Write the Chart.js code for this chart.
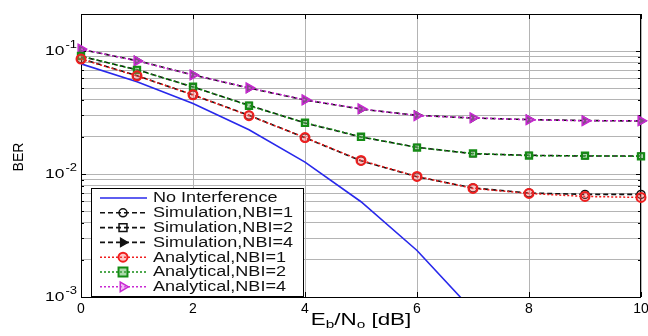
<!DOCTYPE html>
<html><head><meta charset="utf-8">
<script src="https://cdn.jsdelivr.net/npm/chart.js@4/dist/chart.umd.min.js"></script>
<style>html,body{margin:0;padding:0;background:#fff}canvas{display:block}</style>
</head><body><canvas id="c" width="648" height="336"></canvas>
<script>
// ---- data ----
const ebno = [0,1,2,3,4,5,6,7,8,9,10];
const noInterference = [0.0786,0.0563,0.0375,0.0229,0.0125,0.00595,0.00239,0.000773,0.000191];
const simNBI1 = [0.0865,0.0630,0.0440,0.0300,0.0197,0.0128,0.00950,0.00770,0.00700,0.00683,0.00683];
const simNBI2 = [0.0905,0.0705,0.0510,0.0362,0.0260,0.0200,0.0165,0.0146,0.0142,0.0140,0.0140];
const simNBI4 = [0.1030,0.0835,0.0640,0.0500,0.0400,0.0337,0.0300,0.0285,0.0277,0.0272,0.0270];
const anaNBI1 = [0.0861,0.0628,0.0441,0.0298,0.0198,0.0129,0.00955,0.00764,0.00695,0.00657,0.00645];
const anaNBI2 = [0.0911,0.0701,0.0512,0.0359,0.0261,0.0201,0.0164,0.0147,0.0141,0.0141,0.0139];
const anaNBI4 = [0.1038,0.0830,0.0639,0.0502,0.0401,0.0339,0.0298,0.0287,0.0276,0.0271,0.0271];
const seriesLabels = ['No Interference','Simulation,NBI=1','Simulation,NBI=2','Simulation,NBI=4','Analytical,NBI=1','Analytical,NBI=2','Analytical,NBI=4'];
const yGridValues = [0.001,0.002,0.003,0.004,0.005,0.006,0.007,0.008,0.009,0.01,0.02,0.03,0.04,0.05,0.06,0.07,0.08,0.09,0.1,0.2];
const yMajorValues = [0.001,0.01,0.1];
const yMajorExponents = ['-3','-2','-1'];
const xTickValues = [0,2,4,6,8,10];
const xTitleParts = [['E',false],['b',true],['/N',false],['o',true],[' [dB]',false]];
const yTitle = 'BER';

const pts = arr => arr.map((v,i)=>({x:ebno[i],y:v}));
const RED='rgb(240,30,30)', GREEN='rgb(20,140,20)', MAG='rgb(200,40,210)', BLUE='rgb(40,40,235)';
const FONT='"Liberation Sans", Arial, sans-serif';

const datasets = [
 {label:seriesLabels[0],data:pts(noInterference),borderColor:BLUE,borderWidth:1.6,pointRadius:0,order:3},
 {label:seriesLabels[1],data:pts(simNBI1),borderColor:'#111',borderWidth:1.6,borderDash:[5,3],pointStyle:'circle',pointRadius:4,pointBorderWidth:1.5,pointBorderColor:'#111',pointBackgroundColor:'rgba(255,255,255,0)',order:2,clip:false},
 {label:seriesLabels[2],data:pts(simNBI2),borderColor:'#111',borderWidth:1.6,borderDash:[5,3],pointStyle:'rect',pointRadius:4,pointBorderWidth:1.5,pointBorderColor:'#111',pointBackgroundColor:'rgba(255,255,255,0)',order:2,clip:false},
 {label:seriesLabels[3],data:pts(simNBI4),borderColor:'#111',borderWidth:1.6,borderDash:[5,3],pointStyle:'triangle',pointRotation:90,pointRadius:5,pointBorderWidth:1.2,pointBorderColor:'#111',pointBackgroundColor:'#111',order:2,clip:false},
 {label:seriesLabels[4],data:pts(anaNBI1),borderColor:RED,borderWidth:1.5,borderDash:[2,2],pointStyle:'circle',pointRadius:4.5,pointBorderWidth:2,pointBorderColor:RED,pointBackgroundColor:'rgba(255,90,90,0.35)',order:1,clip:false},
 {label:seriesLabels[5],data:pts(anaNBI2),borderColor:GREEN,borderWidth:1.5,borderDash:[2,2],pointStyle:'rect',pointRadius:4.5,pointBorderWidth:2,pointBorderColor:GREEN,pointBackgroundColor:'rgba(90,180,90,0.5)',order:1,clip:false},
 {label:seriesLabels[6],data:pts(anaNBI4),borderColor:MAG,borderWidth:1.5,borderDash:[2,2],pointStyle:'triangle',pointRotation:90,pointRadius:5.5,pointBorderWidth:1.5,pointBorderColor:MAG,pointBackgroundColor:'rgba(225,130,235,0.55)',order:1,clip:false}
];

function drawMarker(ctx, ds, x, y){
  if(!ds.pointRadius) return;
  ctx.save();
  ctx.setLineDash([]);
  ctx.strokeStyle = ds.pointBorderColor; ctx.fillStyle = ds.pointBackgroundColor; ctx.lineWidth = ds.pointBorderWidth;
  const r = ds.pointRadius;
  ctx.beginPath();
  if(ds.pointStyle==='circle'){ ctx.arc(x,y,r,0,Math.PI*2); }
  else if(ds.pointStyle==='rect'){ const s=r/Math.SQRT2*1.4; ctx.rect(x-s,y-s,2*s,2*s); }
  else { ctx.moveTo(x+r,y); ctx.lineTo(x-r*0.5,y-r*0.87); ctx.lineTo(x-r*0.5,y+r*0.87); ctx.closePath(); }
  ctx.fill(); ctx.stroke();
  ctx.restore();
}
function stretchedText(ctx, text, x, y, sx){
  ctx.save(); ctx.translate(x,y); ctx.scale(sx,1); ctx.fillText(text,0,0); ctx.restore();
}

const decor = {
  id:'decor',
  beforeDatasetsDraw(chart){
    const {ctx, chartArea:a, scales:{x,y}} = chart;
    ctx.save();
    ctx.strokeStyle='#000'; ctx.lineWidth=1;
    ctx.beginPath();
    xTickValues.forEach(v=>{ const px=Math.round(x.getPixelForValue(v))+0.5; ctx.moveTo(px,a.bottom); ctx.lineTo(px,a.bottom-5); ctx.moveTo(px,a.top); ctx.lineTo(px,a.top+5); });
    yGridValues.forEach(v=>{ const py=Math.round(y.getPixelForValue(v))+0.5; const L=yMajorValues.includes(v)?5:3; ctx.moveTo(a.left,py); ctx.lineTo(a.left+L,py); ctx.moveTo(a.right,py); ctx.lineTo(a.right-L,py); });
    ctx.stroke();
    ctx.strokeRect(Math.round(a.left)+0.5, Math.round(a.top)+0.5, Math.round(a.right-a.left)-1, Math.round(a.bottom-a.top));
    ctx.restore();
  },
  afterDraw(chart){
    const {ctx, chartArea:a, scales:{y}} = chart;
    ctx.save();
    ctx.fillStyle='#000';
    ctx.textBaseline='alphabetic';
    ctx.textAlign='left';
    // y tick labels with superscripts
    yMajorValues.forEach((v,i)=>{
      const py = y.getPixelForValue(v);
      ctx.font='12px '+FONT;
      const w10 = ctx.measureText('10').width*1.45;
      ctx.font='10px '+FONT;
      const we = ctx.measureText(yMajorExponents[i]).width*1.3;
      const right = a.left-4;
      const xe = right-we, x10 = xe-1-w10;
      ctx.font='12px '+FONT;
      stretchedText(ctx,'10',x10,py+4,1.45);
      ctx.font='10px '+FONT;
      stretchedText(ctx,yMajorExponents[i],xe,py-3,1.3);
    });
    // y title
    ctx.save();
    ctx.translate(23,157); ctx.rotate(-Math.PI/2);
    ctx.font='14px '+FONT; ctx.textAlign='center';
    ctx.fillText(yTitle,0,0);
    ctx.restore();
    // x title with subscripts
    const sx=1.4;
    let total=0;
    const widths = xTitleParts.map(([t,sub])=>{ ctx.font=(sub?'11px ':'16px ')+FONT; const w=ctx.measureText(t).width*sx; total+=w; return w; });
    let cx = (a.left+a.right)/2 - total/2;
    xTitleParts.forEach(([t,sub],i)=>{ ctx.font=(sub?'11px ':'16px ')+FONT; stretchedText(ctx,t,cx,sub?328:325,sx); cx+=widths[i]; });
    // legend
    const L=a.left+10, T=188, R=303, B=a.bottom-1;
    ctx.fillStyle='#fff'; ctx.fillRect(L,T,R-L,B-T);
    ctx.strokeStyle='#000'; ctx.lineWidth=1; ctx.setLineDash([]);
    ctx.strokeRect(L+0.5,T+0.5,R-L,B-T);
    chart.data.datasets.forEach((ds,i)=>{
      const ry = T+10+i*14.8;
      ctx.save();
      ctx.strokeStyle=ds.borderColor; ctx.lineWidth=ds.borderWidth; ctx.setLineDash(ds.borderDash||[]);
      ctx.beginPath(); ctx.moveTo(L+9,ry); ctx.lineTo(L+56,ry); ctx.stroke();
      ctx.restore();
      drawMarker(ctx, ds, L+32, ry);
      ctx.fillStyle='#111'; ctx.font='14px '+FONT; ctx.textBaseline='middle'; ctx.textAlign='left';
      stretchedText(ctx, ds.label, L+62, ry+0.5, 1.29);
    });
    ctx.restore();
  }
};

new Chart(document.getElementById('c'), {
  type:'line',
  data:{datasets},
  options:{
    responsive:false, animation:false, devicePixelRatio:1,
    layout:{padding:{top:14,right:2,left:0,bottom:0}},
    elements:{line:{tension:0}},
    plugins:{legend:{display:false},tooltip:{enabled:false}},
    scales:{
      x:{type:'linear',min:0,max:10,
        afterBuildTicks(s){ s.ticks = xTickValues.map(v=>({value:v})); },
        ticks:{padding:4,color:'#000',font:{size:14,family:FONT},autoSkip:false,maxRotation:0},
        grid:{color:'#b4b4b4',drawTicks:false,lineWidth:1},
        border:{display:false},
        afterFit(s){ s.height=39; s.paddingLeft=0; s.paddingRight=0; }
      },
      y:{type:'logarithmic',min:0.001,max:0.2,
        afterBuildTicks(s){ s.ticks = yGridValues.map(v=>({value:v})); },
        ticks:{callback:()=>'',autoSkip:false,padding:0},
        grid:{color:'#b4b4b4',drawTicks:false,lineWidth:1},
        border:{display:false},
        afterFit(s){ s.width=81; s.paddingTop=0; s.paddingBottom=0; }
      }
    }
  },
  plugins:[decor]
});
</script>
</body></html>
